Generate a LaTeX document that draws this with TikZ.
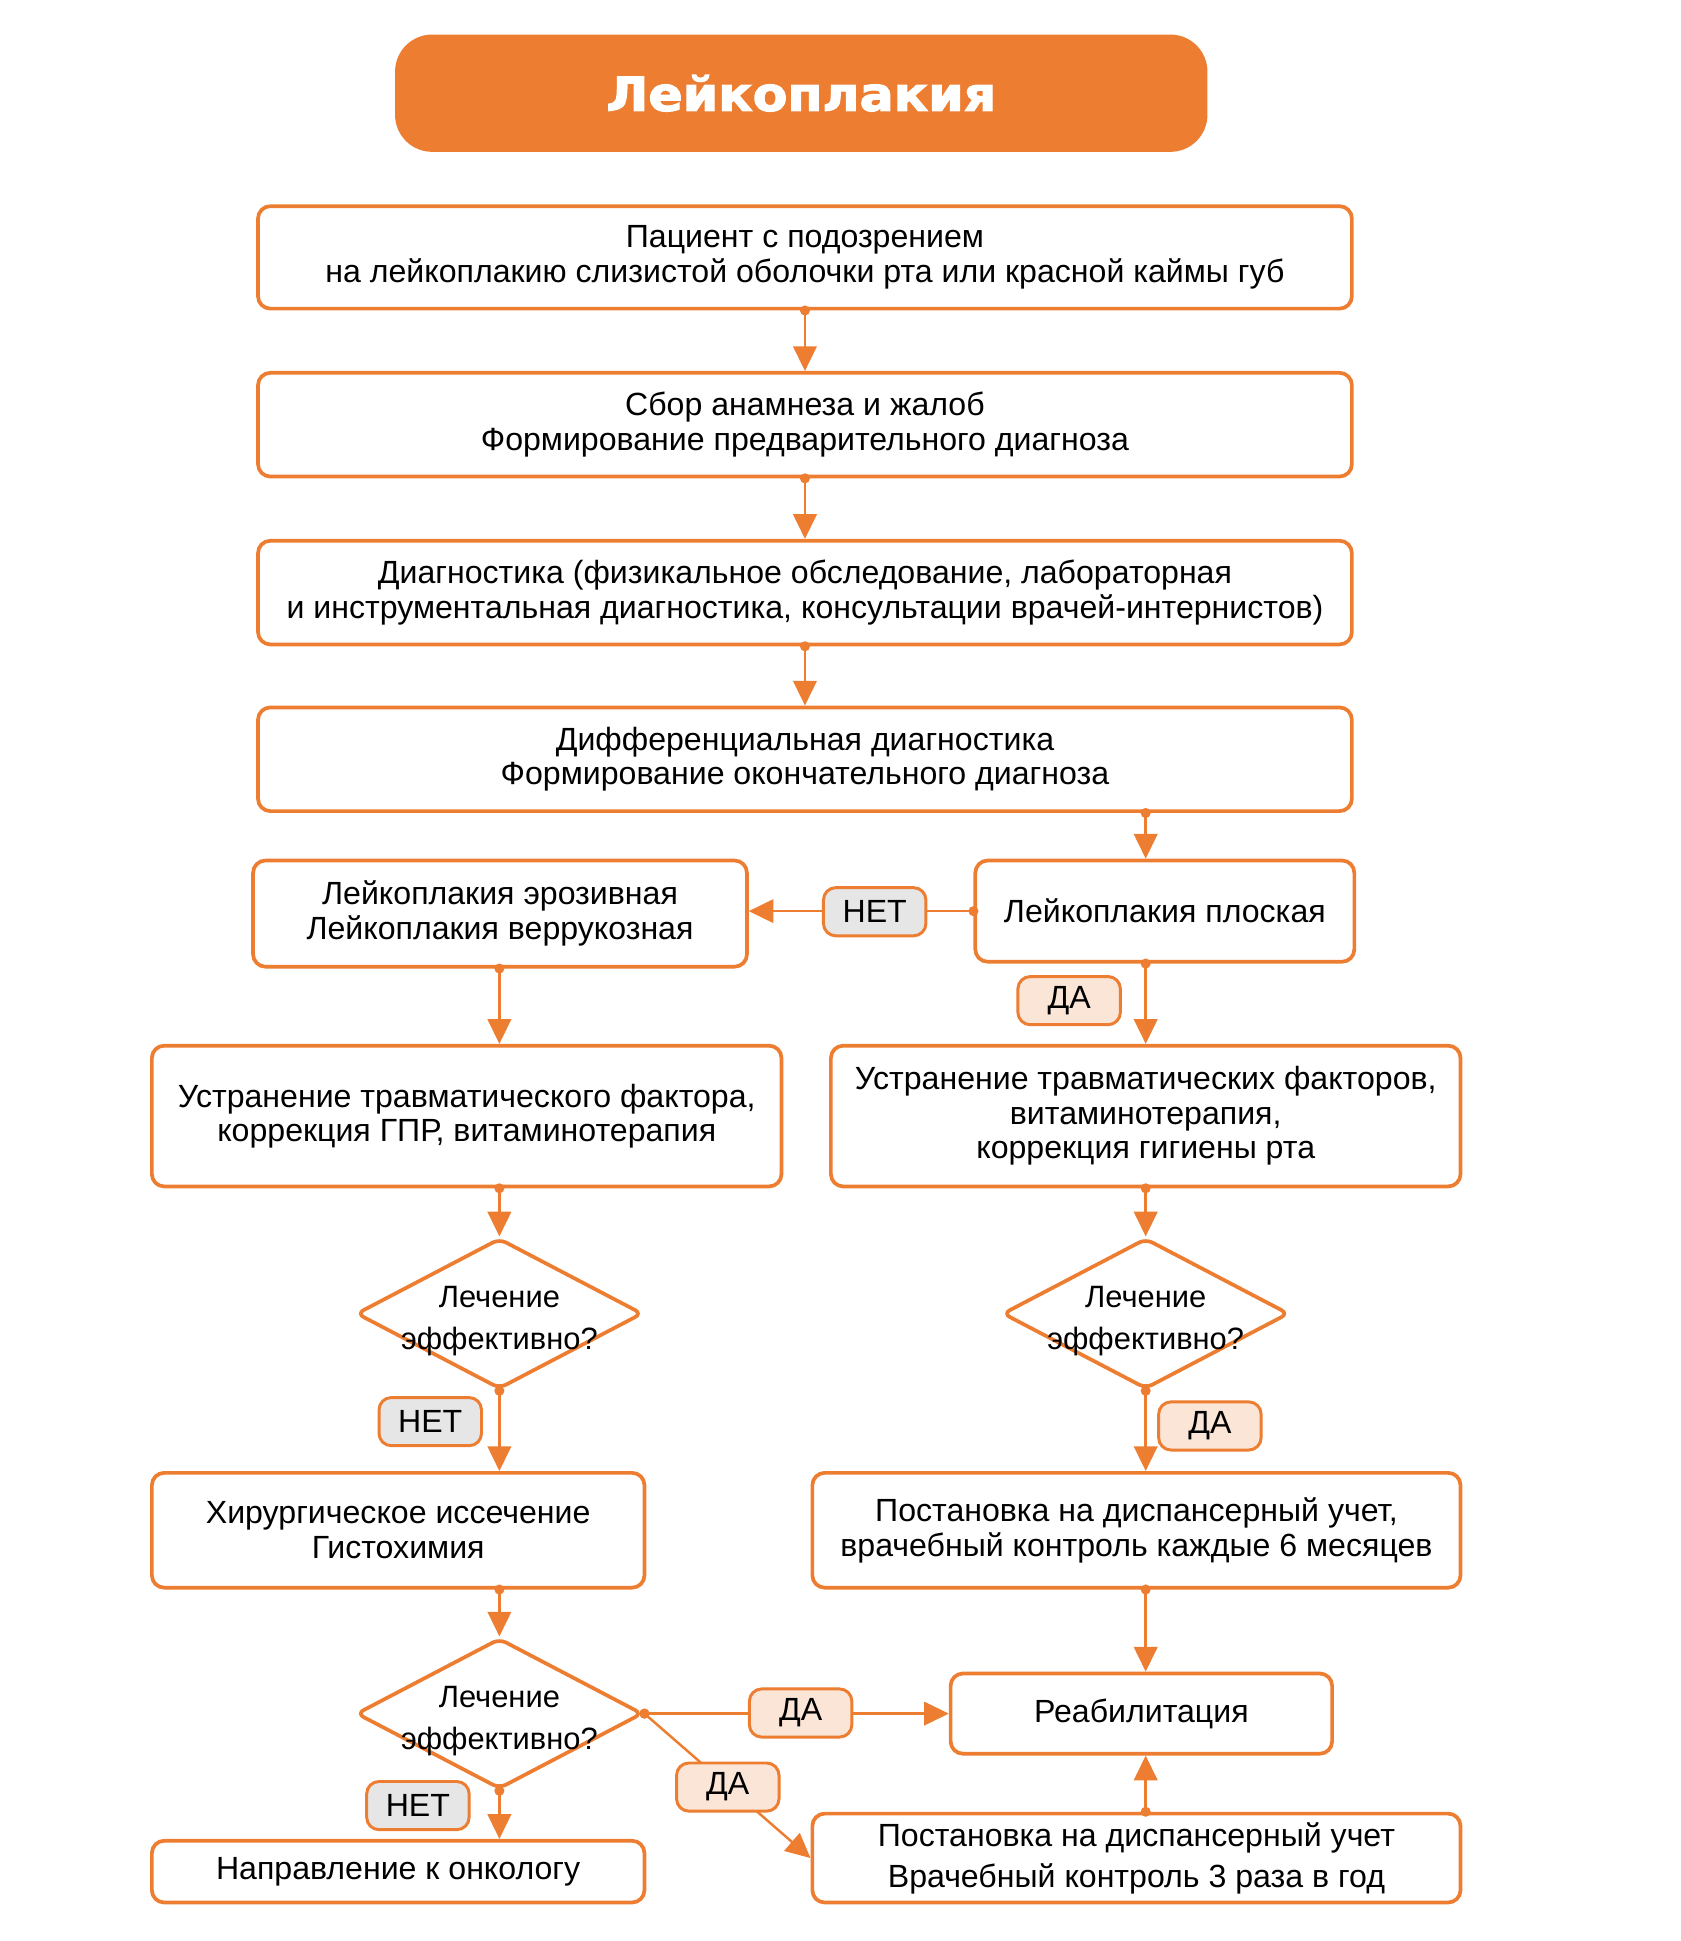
\documentclass[tikz,border=0pt]{standalone}
\usepackage{fontspec}
\setmainfont{Liberation Sans}
\newfontfamily\titlefont[FakeStretch=1.08,FakeBold=2.5]{DejaVu Sans}
\usetikzlibrary{arrows.meta,shapes.geometric}
\definecolor{org}{HTML}{ED7D31}
\definecolor{nofill}{HTML}{E7E6E6}
\definecolor{yesfill}{HTML}{FBE5D6}
\tikzset{
  box/.style={draw=org, line width=1.5pt, rounded corners=5pt, fill=white,
    align=center, inner sep=0pt, font=\fontsize{13}{14}\selectfont},
  dia/.style={draw=org, line width=1.5pt, diamond, rounded corners=3pt, fill=white,
    inner sep=0pt, minimum width=116pt, minimum height=61pt},
  diatext/.style={align=center, inner sep=0pt, font=\fontsize{12.5}{17}\selectfont},
  conn/.style={draw=org, line width=1pt, {Circle[length=4pt]}-{Triangle[length=10pt,width=9.5pt]},
    shorten <=-2pt, color=org},
  tagno/.style={draw=org, line width=1.2pt, fill=nofill, rounded corners=5pt,
    minimum width=41.5pt, minimum height=19.5pt, inner sep=0pt, font=\fontsize{13}{14}\selectfont},
  tagyes/.style={tagno, fill=yesfill},
}
\begin{document}
\begin{tikzpicture}[x=0.5pt,y=-0.5pt]
\useasboundingbox (0,0) rectangle (1360.8,1572.2);
% title
\node[fill=org, rounded corners=15pt, minimum width=329pt, minimum height=47.5pt, inner sep=0pt,
  text=white, font=\titlefont\bfseries\fontsize{19}{22}\selectfont] (title) at (649,75.5) {Лейкоплакия};
% boxes
\node[box, minimum width=443pt, minimum height=41.5pt] (b1) at (652,208.5)
  {Пациент с подозрением\\на лейкоплакию слизистой оболочки рта или красной каймы губ};
\node[box, minimum width=443pt, minimum height=42pt] (b2) at (652,344)
  {Сбор анамнеза и жалоб\\Формирование предварительного диагноза};
\node[box, minimum width=443pt, minimum height=42pt] (b3) at (652,480)
  {Диагностика (физикальное обследование, лабораторная\\и инструментальная диагностика, консультации врачей-интернистов)};
\node[box, minimum width=443pt, minimum height=42pt] (b4) at (652,615)
  {Дифференциальная диагностика\\Формирование окончательного диагноза};
\node[box, minimum width=153.5pt, minimum height=41pt] (b5) at (943.5,738)
  {Лейкоплакия плоская};
\node[box, minimum width=200pt, minimum height=43pt] (b6) at (405,740)
  {Лейкоплакия эрозивная\\Лейкоплакия веррукозная};
\node[box, minimum width=255pt, minimum height=57pt] (b7) at (378,904)
  {Устранение травматического фактора,\\коррекция ГПР, витаминотерапия};
\node[box, minimum width=255pt, minimum height=57pt] (b8) at (928,904)
  {Устранение травматических факторов,\\витаминотерапия,\\коррекция гигиены рта};
\node[dia] (d1) at (404.5,1064) {};
\node[diatext] (d1t) at (404.5,1070) {Лечение\\эффективно?};
\node[dia] (d2) at (928,1064) {};
\node[diatext] (d2t) at (928,1070) {Лечение\\эффективно?};
\node[box, minimum width=199.5pt, minimum height=46.5pt] (b9) at (322.5,1239.5)
  {Хирургическое иссечение\\Гистохимия};
\node[box, minimum width=262.5pt, minimum height=46.5pt] (b10) at (920.5,1239.5)
  {Постановка на диспансерный учет,\\врачебный контроль каждые 6 месяцев};
\node[dia] (d3) at (404.5,1388) {};
\node[diatext] (d3t) at (404.5,1394) {Лечение\\эффективно?};
\node[box, minimum width=154.5pt, minimum height=32.5pt] (b11) at (924.5,1388)
  {Реабилитация};
\node[box, minimum width=262.5pt, minimum height=36pt] (b12) at (920.5,1505)
  {\rule{0pt}{4pt}Постановка на диспансерный учет\\[2.5pt]Врачебный контроль 3 раза в год};
\node[box, minimum width=199.5pt, minimum height=25pt] (b13) at (322.5,1516)
  {Направление к онкологу};
% connectors
\draw[conn] (b1) -- (b2);
\draw[conn] (b2) -- (b3);
\draw[conn] (b3) -- (b4);
\draw[conn] (b4.south -| b8) -- (b5.north -| b8);
\draw[conn] (b5.west) -- (b6.east |- b5.west);
\draw[conn] (b5.south -| b8) -- (b8.north);
\draw[conn] (b6.south -| d1) -- (b7.north -| d1);
\draw[conn] (b7.south -| d1) -- (d1.north);
\draw[conn] (b8.south) -- (d2.north);
\draw[conn] (d1.south) -- (b9.north -| d1);
\draw[conn] (d2.south) -- (b10.north -| d2);
\draw[conn] (b9.south -| d3) -- (d3.north);
\draw[conn] (b10.south -| d2) -- (b11.north -| d2);
\draw[conn] (d3.east) -- (b11.west);
\draw[conn] (d3.east) -- (b12.west);
\draw[conn] (d3.south) -- (b13.north -| d3);
\draw[conn] (b12.north -| d2) -- (b11.south -| d2);
% labels
\node[tagno] (n1) at (708.5,738.5) {НЕТ};
\node[tagyes] (y1) at (866,810.5) {ДА};
\node[tagno] (n2) at (348.5,1151.5) {НЕТ};
\node[tagyes] (y2) at (980,1155) {ДА};
\node[tagyes] (y3) at (648.5,1387.5) {ДА};
\node[tagyes] (y4) at (589.5,1447.5) {ДА};
\node[tagno] (n3) at (338.5,1462.5) {НЕТ};
\end{tikzpicture}
\end{document}
